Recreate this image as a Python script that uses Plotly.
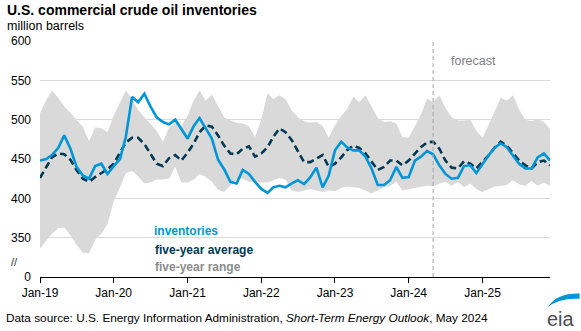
import pandas as pd
import plotly.graph_objects as go

# Monthly series, Jan-2019 .. Dec-2025 (million barrels)
months = pd.date_range("2019-01-01", "2025-12-01", freq="MS")

inventories = [
    448, 450, 455, 464, 480, 463, 440, 429, 425, 441, 444, 431,
    441, 450, 478, 529, 522, 533, 517, 503, 497, 494, 500, 489,
    476, 492, 502, 489, 476, 449, 437, 421, 419, 436, 431, 421,
    412, 407, 414, 416, 414, 419, 423, 418, 427, 439, 414, 429,
    461, 472, 465, 461, 461, 453, 438, 417, 417, 423, 440, 426,
    427, 448, 453, 460, 456, 442, 431, 425, 426, 441, 442, 432,
    444, 455, 464, 470, 465, 455, 444, 438, 438, 452, 457, 448,
]

five_year_avg = [
    426, 440, 452, 457, 456, 449, 436, 425, 421, 427, 432, 437,
    444, 457, 471, 477, 477, 469, 457, 444, 441, 451, 455, 448,
    458, 470, 484, 493, 491, 480, 467, 457, 456, 463, 466, 453,
    457, 465, 478, 489, 484, 474, 460, 446, 446, 450, 455, 440,
    444, 452, 461, 467, 464, 457, 446, 436, 440, 448, 448, 442,
    448, 457, 465, 471, 472, 463, 448, 439, 438, 447, 444, 438,
    446, 455, 464, 472, 467, 457, 448, 442, 438, 446, 448, 442,
]

range_max = [
    508, 525, 537, 528, 517, 508, 500, 491, 473, 490, 489, 484,
    505, 522, 537, 526, 512, 503, 495, 486, 472, 490, 496, 492,
    505, 525, 537, 524, 532, 518, 503, 499, 496, 495, 492, 478,
    500, 534, 526, 531, 526, 512, 503, 498, 496, 497, 492, 477,
    493, 505, 513, 529, 522, 531, 517, 502, 497, 498, 495, 478,
    477, 491, 506, 527, 522, 531, 515, 503, 499, 499, 500, 486,
    477, 494, 510, 528, 524, 531, 513, 500, 498, 501, 497, 488,
]

range_min = [
    336, 346, 355, 362, 363, 353, 341, 331, 330, 347, 355, 367,
    396, 414, 432, 435, 428, 419, 420, 424, 424, 425, 440, 420,
    420, 424, 431, 427, 421, 411, 408, 416, 424, 425, 421, 421,
    420, 420, 423, 426, 424, 410, 408, 410, 412, 410, 408, 410,
    409, 413, 415, 414, 413, 410, 406, 410, 414, 416, 421, 410,
    412, 413, 414, 416, 415, 419, 421, 416, 421, 414, 419, 412,
    408, 412, 415, 416, 417, 423, 418, 416, 422, 416, 420, 416,
]

tick_years = [2019, 2020, 2021, 2022, 2023, 2024, 2025]
tick_labels = ["Jan-19", "Jan-20", "Jan-21", "Jan-22", "Jan-23", "Jan-24", "Jan-25"]
y_ticks = [300, 350, 400, 450, 500, 550, 600]
y_labels = ["0", "350", "400", "450", "500", "550", "600"]
forecast_start = "2024-05-01"

FONT = "Liberation Sans, Arial, sans-serif"
BLUE = "#0096d7"
NAVY = "#003953"
RANGE_GRAY = "#d9d9d9"
TEXT_GRAY = "#8c8c8c"

fig = go.Figure()

# five-year range band
fig.add_trace(go.Scatter(x=months, y=range_max, mode="lines",
                         line=dict(width=0, color=RANGE_GRAY),
                         hoverinfo="skip", showlegend=False))
fig.add_trace(go.Scatter(x=months, y=range_min, mode="lines",
                         line=dict(width=0, color=RANGE_GRAY),
                         fill="tonexty", fillcolor=RANGE_GRAY,
                         hoverinfo="skip", showlegend=False))

# five-year average
fig.add_trace(go.Scatter(x=months, y=five_year_avg, mode="lines",
                         line=dict(color=NAVY, width=2.6, dash="7px,4px"),
                         showlegend=False))

# inventories
fig.add_trace(go.Scatter(x=months, y=inventories, mode="lines",
                         line=dict(color=BLUE, width=2.6),
                         showlegend=False))

# forecast divider
fig.add_shape(type="line", xref="x", yref="paper",
              x0=forecast_start, x1=forecast_start, y0=0, y1=1,
              line=dict(color="#a6a6a6", width=1, dash="4px,3px"))

annotations = [
    dict(text="forecast", x="2024-07-20", y=574, xref="x", yref="y",
         xanchor="left", yanchor="middle", showarrow=False,
         font=dict(family=FONT, size=12.5, color="#808080")),
    dict(text="<b>inventories</b>", x="2020-07-08", y=358, xref="x", yref="y",
         xanchor="left", yanchor="middle", showarrow=False,
         font=dict(family=FONT, size=12, color=BLUE)),
    dict(text="<b>five-year average</b>", x="2020-07-12", y=334, xref="x", yref="y",
         xanchor="left", yanchor="middle", showarrow=False,
         font=dict(family=FONT, size=12, color=NAVY)),
    dict(text="<b>five-year range</b>", x="2020-07-15", y=312.5, xref="x", yref="y",
         xanchor="left", yanchor="middle", showarrow=False,
         font=dict(family=FONT, size=12, color=TEXT_GRAY)),
    # axis break marker
    dict(text="//", x=-0.05, y=319, xref="paper", yref="y",
         xanchor="center", yanchor="middle", showarrow=False,
         font=dict(family=FONT, size=11, color="#333333")),
    # title block
    dict(text="<b>U.S. commercial crude oil inventories</b>", x=-0.068, y=1.13,
         xref="paper", yref="paper", xanchor="left", yanchor="middle",
         showarrow=False, font=dict(family=FONT, size=14, color="#000000")),
    dict(text="million barrels", x=-0.068, y=1.063,
         xref="paper", yref="paper", xanchor="left", yanchor="middle",
         showarrow=False, font=dict(family=FONT, size=12.5, color="#000000")),
    # source line
    dict(text="Data source: U.S. Energy Information Administration, "
              "<i>Short-Term Energy Outlook</i>, May 2024",
         x=-0.07, y=-0.175, xref="paper", yref="paper",
         xanchor="left", yanchor="middle", showarrow=False,
         font=dict(family=FONT, size=11.8, color="#000000")),
    # logo wordmark
    dict(text="eia", x=1.052, y=-0.178, xref="paper", yref="paper",
         xanchor="right", yanchor="middle", showarrow=False,
         font=dict(family=FONT, size=20, color="#4d4d4d")),
]

# logo swoosh
fig.add_shape(type="path", xref="paper", yref="paper",
              path="M 0.996 -0.128 Q 1.012 -0.068 1.058 -0.070 "
                   "L 1.058 -0.092 Q 1.016 -0.088 0.996 -0.128 Z",
              fillcolor=BLUE, line=dict(width=0))

fig.update_layout(
    width=581, height=331,
    margin=dict(l=40, r=31, t=41, b=54),
    paper_bgcolor="white", plot_bgcolor="white",
    font=dict(family=FONT, size=12, color="#000000"),
    annotations=annotations,
    showlegend=False,
)

fig.update_xaxes(
    type="date", range=[months[0], months[-1]],
    tickvals=[f"{y}-01-01" for y in tick_years], ticktext=tick_labels,
    showgrid=False, showline=True, linecolor="#000000", linewidth=1,
    ticks="outside", ticklen=5, tickcolor="#000000", tickwidth=1,
    tickfont=dict(family=FONT, size=12, color="#000000"),
    zeroline=False,
)

fig.update_yaxes(
    range=[300, 600], tickvals=y_ticks, ticktext=y_labels,
    showgrid=True, gridcolor="#d9d9d9", gridwidth=1.3,
    showline=False, zeroline=False, ticks="",
    ticklabelstandoff=8,
    tickfont=dict(family=FONT, size=12, color="#000000"),
)

fig.write_html("out.html")
